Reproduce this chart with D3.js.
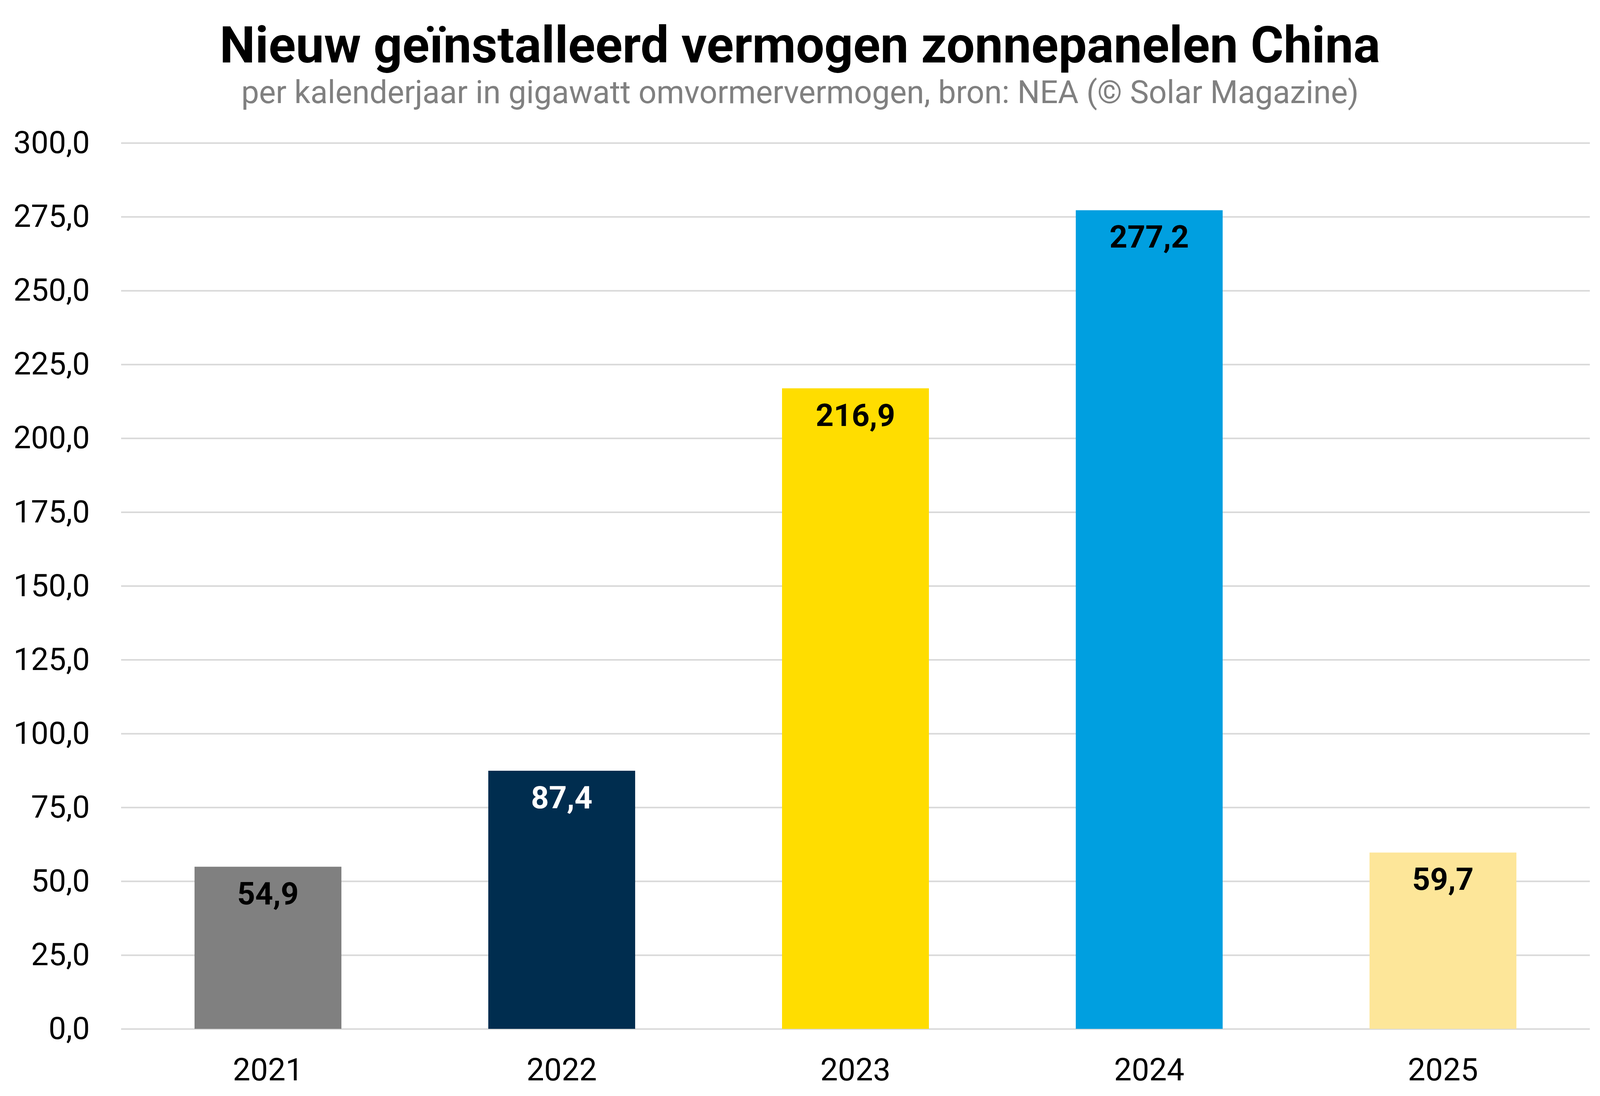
<!DOCTYPE html>
<html>
<head>
<meta charset="utf-8">
<script src="https://cdn.jsdelivr.net/npm/d3@7"></script>
<style>
  html, body { margin: 0; padding: 0; background: #fff; overflow: hidden; }
  svg { display: block; font-family: Roboto, "Noto Sans", sans-serif; }
</style>
</head>
<body>
<div id="chart"></div>
<script>
// data
const years = ['2021', '2022', '2023', '2024', '2025'];
const values = [54.9, 87.4, 216.9, 277.2, 59.7];
const barColors = ['#808080', '#002d4f', '#ffdd00', '#009fe0', '#fde699'];
const labelColors = ['#000', '#fff', '#000', '#000', '#000'];
const yTicks = [0, 25, 50, 75, 100, 125, 150, 175, 200, 225, 250, 275, 300];

const title = 'Nieuw geïnstalleerd vermogen zonnepanelen China';
const subtitle = 'per kalenderjaar in gigawatt omvormervermogen, bron: NEA (© Solar Magazine)';

// the window can be narrower than asked for, so fit to what is really there
const width = window.innerWidth || 4989;
const height = window.innerHeight || 2807;
const margin = {top: 366, right: 26, bottom: height - 2635, left: 310};

const fmt = v => d3.format('.1f')(v).replace('.', ',');

const svg = d3.select('#chart').append('svg')
  .attr('width', width)
  .attr('height', height);

const x = d3.scaleBand()
  .domain(years)
  .range([margin.left, width - margin.right])
  .paddingInner(0.5)
  .paddingOuter(0.25);

const y = d3.scaleLinear()
  .domain([0, 300])
  .range([height - margin.bottom, margin.top]);

// MARK: - titles
svg.append('text')
  .attr('x', width / 2)
  .attr('y', 160)
  .attr('text-anchor', 'middle')
  .attr('font-size', 129)
  .attr('font-weight', 700)
  .attr('fill', '#000')
  .text(title);

svg.append('text')
  .attr('x', width / 2)
  .attr('y', 264)
  .attr('text-anchor', 'middle')
  .attr('font-size', 81)
  .attr('fill', '#808080')
  .text(subtitle);

// MARK: - grid + y axis
const yAxis = d3.axisLeft(y)
  .tickValues(yTicks)
  .tickSize(-(width - margin.left - margin.right))
  .tickPadding(80)
  .tickFormat(fmt);

const gy = svg.append('g')
  .attr('transform', `translate(${margin.left},0)`)
  .call(yAxis);
gy.select('.domain').remove();
gy.selectAll('.tick line').attr('stroke', '#d9d9d9').attr('stroke-width', 4);
gy.selectAll('.tick text')
  .attr('font-size', 80)
  .attr('fill', '#000')
  .attr('font-family', 'Roboto, sans-serif');

// MARK: - bars
svg.append('g').selectAll('rect')
  .data(values)
  .join('rect')
  .attr('x', (d, i) => x(years[i]))
  .attr('y', d => y(d))
  .attr('width', x.bandwidth())
  .attr('height', d => y(0) - y(d))
  .attr('fill', (d, i) => barColors[i]);

// value labels
svg.append('g').selectAll('text')
  .data(values)
  .join('text')
  .attr('x', (d, i) => x(years[i]) + x.bandwidth() / 2)
  .attr('y', d => y(d) + 96)
  .attr('text-anchor', 'middle')
  .attr('font-size', 80)
  .attr('font-weight', 700)
  .attr('fill', (d, i) => labelColors[i])
  .text(fmt);

// MARK: - x axis
const gx = svg.append('g')
  .attr('transform', `translate(0,${y(0)})`)
  .call(d3.axisBottom(x).tickSize(0).tickPadding(75));
gx.select('.domain').remove();
gx.selectAll('.tick text')
  .attr('font-size', 80)
  .attr('fill', '#000')
  .attr('font-family', 'Roboto, sans-serif');
</script>
</body>
</html>
